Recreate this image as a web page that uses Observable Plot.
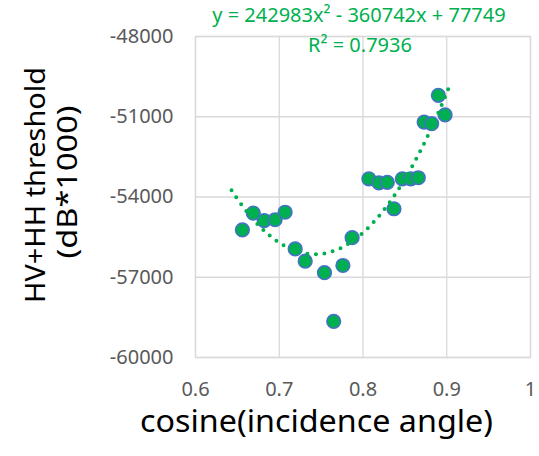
<!DOCTYPE html>
<html>
<head>
<meta charset="utf-8">
<script src="https://cdn.jsdelivr.net/npm/d3@7"></script>
<script src="https://cdn.jsdelivr.net/npm/@observablehq/plot@0.6"></script>
<style>
  html, body { margin: 0; padding: 0; background: #fff; }
  #chart { width: 539px; height: 456px; }
</style>
</head>
<body>
<div id="chart"></div>
<script>
// ---- data ----
const cosAngle = [0.656, 0.669, 0.682, 0.695, 0.707, 0.719, 0.731, 0.754, 0.765, 0.776, 0.787,
                  0.807, 0.819, 0.829, 0.837, 0.847, 0.857, 0.866, 0.873, 0.882, 0.890, 0.898];
const threshold = [-55230, -54600, -54880, -54850, -54570, -55940, -56400, -56830, -58650, -56560, -55520,
                   -53320, -53470, -53450, -54440, -53320, -53320, -53280, -51200, -51260, -50200, -50930];
const xTicks = [0.6, 0.7, 0.8, 0.9, 1];
const yTicks = [-60000, -57000, -54000, -51000, -48000];
const trendCoef = [242983, -360742, 77749];   // y = a x^2 + b x + c (as printed on chart)
const trendRange = [0.643, 0.9035];
const eqLabel = "y = 242983x\u00B2 - 360742x + 77749";
const r2Label = "R\u00B2 = 0.7936";
const xLabel = "cosine(incidence angle)";
const yLabelLines = ["HV+HH threshold", "(dB*1000)"];

const points = cosAngle.map((x, i) => ({x, y: threshold[i]}));
const trend = d3.range(trendRange[0], trendRange[1] + 1e-9, 0.002)
  .map(x => ({x, y: trendCoef[0] * x * x + trendCoef[1] * x + trendCoef[2]}));

const green = "#00B050", blue = "#4472C4", grid = "#D9D9D9", tickGray = "#595959";
const font = "'Noto Sans', sans-serif";

const svg = Plot.plot({
  width: 539,
  height: 456,
  marginLeft: 195,
  marginRight: 9,
  marginTop: 36,
  marginBottom: 99,
  style: {fontFamily: font, fontSize: "20px", color: tickGray, background: "#fff"},
  x: {domain: [0.6, 1], ticks: xTicks},
  y: {domain: [-60000, -48000], ticks: yTicks},
  marks: [
    Plot.gridX(xTicks, {stroke: grid, strokeOpacity: 1, strokeWidth: 1.3}),
    Plot.gridY(yTicks, {stroke: grid, strokeOpacity: 1, strokeWidth: 1.3}),
    Plot.frame({stroke: grid, strokeWidth: 1.3}),
    Plot.axisX(xTicks, {tickSize: 0, tickPadding: 24, tickFormat: d => String(d), label: null, fill: tickGray}),
    Plot.axisY(yTicks, {tickSize: 0, tickPadding: 22, tickFormat: d => String(d), label: null, fill: tickGray}),
    Plot.dot(points, {x: "x", y: "y", r: 6.8, fill: green, stroke: blue, strokeWidth: 1.6}),
    Plot.line(trend, {x: "x", y: "y", stroke: green, strokeWidth: 4, strokeDasharray: "0 8.5", strokeLinecap: "round", curve: "linear"})
  ]
});

const s = d3.select(svg);
s.append("text").attr("x", 359).attr("y", 22).attr("text-anchor", "middle")
  .attr("fill", green).attr("font-size", 20).attr("font-family", font).text(eqLabel);
s.append("text").attr("x", 360).attr("y", 52).attr("text-anchor", "middle")
  .attr("fill", green).attr("font-size", 20).attr("font-family", font).text(r2Label);
s.append("text").attr("x", 316.5).attr("y", 432).attr("text-anchor", "middle")
  .attr("textLength", 353).attr("lengthAdjust", "spacingAndGlyphs")
  .attr("fill", "#000").attr("font-size", 31).attr("font-family", font).text(xLabel);
s.append("text").attr("transform", "translate(45,185) rotate(-90)").attr("text-anchor", "middle")
  .attr("textLength", 236).attr("lengthAdjust", "spacingAndGlyphs")
  .attr("fill", "#000").attr("font-size", 28).attr("font-family", font).text(yLabelLines[0]);
s.append("text").attr("transform", "translate(77,182) rotate(-90)").attr("text-anchor", "middle")
  .attr("textLength", 153).attr("lengthAdjust", "spacingAndGlyphs")
  .attr("fill", "#000").attr("font-size", 28).attr("font-family", font).text(yLabelLines[1]);

document.getElementById("chart").appendChild(svg);
</script>
</body>
</html>
